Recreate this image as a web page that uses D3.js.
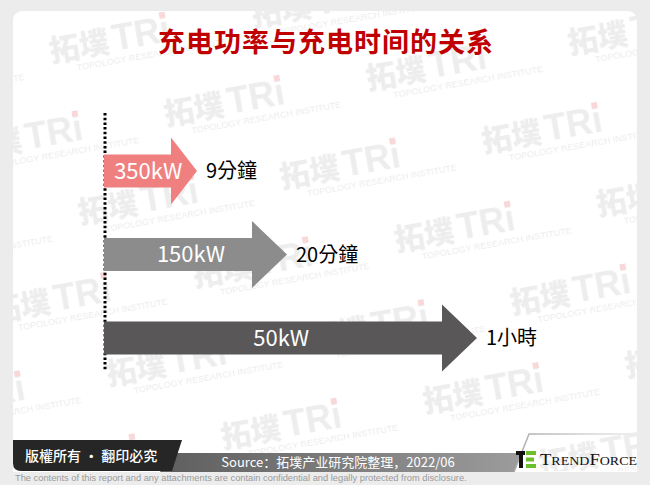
<!DOCTYPE html>
<html><head><meta charset="utf-8">
<script src="https://cdn.jsdelivr.net/npm/d3@7"></script>
<style>
html,body{margin:0;padding:0;background:#ececec;}
svg{display:block;}
</style></head>
<body>
<script>
// ---- data ----
const title = "充电功率与充电时间的关系";
const categories = ["350kW", "150kW", "50kW"];
const chargeMinutes = [9, 20, 60];
const timeLabels = ["9分鐘", "20分鐘", "1小時"];
const arrowColors = ["#f08080", "#8c8c8c", "#595757"];
const sourceText = "Source：拓墣产业研究院整理，2022/06";
const copyrightText = "版權所有 · 翻印必究";
const disclaimer = "The contents of this report and any attachments are contain confidential and legally protected from disclosure.";

const W = 650, H = 485;
const svg = d3.select("body").append("svg").attr("width", W).attr("height", H);
const defs = svg.append("defs");

// card
svg.append("rect").attr("x", 13).attr("y", 11).attr("width", 624).attr("height", 470)
  .attr("rx", 9).attr("fill", "#ffffff");

// watermark pattern
const pat = defs.append("pattern").attr("id", "wm").attr("patternUnits", "userSpaceOnUse")
  .attr("width", 205).attr("height", 164).attr("patternTransform", "rotate(-10) translate(30,30)");
function wmUnit(g, x, y) {
  const u = g.append("g").attr("transform", `translate(${x},${y})`);
  u.append("text").attr("x", 0).attr("y", 0).attr("font-family", "Noto Sans CJK TC").attr("font-weight", 900)
    .attr("font-size", 30).attr("fill", "#ededed").text("拓墣");
  u.append("text").attr("x", 64).attr("y", 0).attr("font-family", "Liberation Sans").attr("font-weight", 700)
    .attr("font-size", 36).attr("fill", "#ededed").text("TRi");
  u.append("rect").attr("x", 114).attr("y", -30).attr("width", 6).attr("height", 6).attr("fill", "#f8d8d8");
  u.append("text").attr("x", 24).attr("y", 13).attr("font-family", "Liberation Sans")
    .attr("font-size", 9).attr("fill", "#ebebeb").text("TOPOLOGY RESEARCH INSTITUTE");
}
wmUnit(pat, 10, 40);
wmUnit(pat, 112, 122);
wmUnit(pat, -93, 122);
svg.append("rect").attr("x", 13).attr("y", 11).attr("width", 624).attr("height", 460).attr("fill", "url(#wm)");

// title
svg.append("text").attr("x", 326).attr("y", 52).attr("text-anchor", "middle")
  .attr("font-family", "Noto Sans CJK TC").attr("font-weight", 700).attr("font-size", 27)
  .attr("fill", "#c00000").attr("letter-spacing", 1).text(title);

// scales
const x = d3.scaleLinear().domain([0, 9, 20, 60]).range([104, 197, 287, 477]);
const y = d3.scalePoint().domain(categories).range([171, 338]);

// dotted axis
svg.append("line").attr("x1", 105).attr("x2", 105).attr("y1", 113).attr("y2", 371)
  .attr("stroke", "#000").attr("stroke-width", 3).attr("stroke-dasharray", "2.5,2.2");

const data = categories.map((c, i) => ({ c, m: chargeMinutes[i], label: timeLabels[i], color: arrowColors[i], i }));

const g = svg.append("g");
data.forEach(d => {
  const x0 = x(0), tip = x(d.m), cy = y(d.c);
  const headLen = d.i === 0 ? 26 : 35;
  const bh = 16.5, hh = 33.5;
  const hs = tip - headLen;
  const pts = [[x0, cy - bh], [hs, cy - bh], [hs, cy - hh], [tip, cy], [hs, cy + hh], [hs, cy + bh], [x0, cy + bh]];
  g.append("path").attr("d", d3.line()(pts) + "Z").attr("fill", d.color);
  const tx = (x0 + tip) / 2 - 0.025 * (tip - x0);
  g.append("text").attr("x", tx).attr("y", cy).attr("dy", "0.36em").attr("text-anchor", "middle")
    .attr("font-family", "Noto Sans CJK TC").attr("font-size", 22).attr("fill", "#fff").text(d.c);
  g.append("text").attr("x", tip + 9).attr("y", cy).attr("dy", "0.36em")
    .attr("font-family", "Noto Sans CJK TC").attr("font-size", 20).attr("fill", "#000").text(d.label);
});

// footer
const grad = defs.append("linearGradient").attr("id", "gbar").attr("x1", "0").attr("x2", "1");
grad.append("stop").attr("offset", "0").attr("stop-color", "#5e5e5e");
grad.append("stop").attr("offset", "1").attr("stop-color", "#9c9c9c");
svg.append("path").attr("d", "M170,453 L522,453 L514,472 L160,472 Z").attr("fill", "url(#gbar)");
svg.append("path").attr("d", "M13,440 L182,440 L172,471 L21,471 Q13,471 13,463 Z").attr("fill", "#262626");
const lg = defs.append("linearGradient").attr("id", "lline").attr("x1", "0").attr("x2", "1");
lg.append("stop").attr("offset", "0").attr("stop-color", "#aaaaaa");
lg.append("stop").attr("offset", "1").attr("stop-color", "#eeeeee");
svg.append("path").attr("d", "M514,472 L529,434 L637,434").attr("fill", "none").attr("stroke", "url(#lline)").attr("stroke-width", 1.5);
svg.append("rect").attr("x", 13).attr("y", 472).attr("width", 624).attr("height", 13).attr("fill", "#ececec");

svg.append("text").attr("x", 25).attr("y", 456).attr("dy", "0.35em")
  .attr("font-family", "Noto Sans CJK TC").attr("font-weight", 500).attr("font-size", 14)
  .attr("fill", "#fff").text(copyrightText);
svg.append("text").attr("x", 338).attr("y", 462).attr("dy", "0.35em").attr("text-anchor", "middle")
  .attr("font-family", "Noto Sans CJK SC").attr("font-size", 13).attr("fill", "#fff").text(sourceText);

// TrendForce logo
const logo = svg.append("g").attr("transform", "translate(516,451)");
logo.append("rect").attr("x", 0).attr("y", 0).attr("width", 9).attr("height", 4).attr("fill", "#111");
logo.append("rect").attr("x", 3).attr("y", 4).attr("width", 4).attr("height", 13).attr("fill", "#111");
logo.append("rect").attr("x", 10).attr("y", 0).attr("width", 10).attr("height", 4).attr("fill", "#6abf2a");
logo.append("rect").attr("x", 10).attr("y", 6.5).attr("width", 8).attr("height", 4).attr("fill", "#6abf2a");
logo.append("rect").attr("x", 10).attr("y", 13).attr("width", 10).attr("height", 4).attr("fill", "#6abf2a");
svg.append("text").attr("x", 540).attr("y", 459).attr("dy", "0.35em")
  .attr("font-family", "Liberation Serif").attr("font-size", 16).attr("fill", "#111")
  .attr("textLength", 97).attr("lengthAdjust", "spacingAndGlyphs")
  .html('T<tspan font-size="12">REND</tspan>F<tspan font-size="12">ORCE</tspan>');

svg.append("text").attr("x", 15).attr("y", 478).attr("dy", "0.35em")
  .attr("font-family", "Liberation Sans").attr("font-size", 9.3).attr("fill", "#9a9a9a")
  .text(disclaimer);
</script>
</body></html>
